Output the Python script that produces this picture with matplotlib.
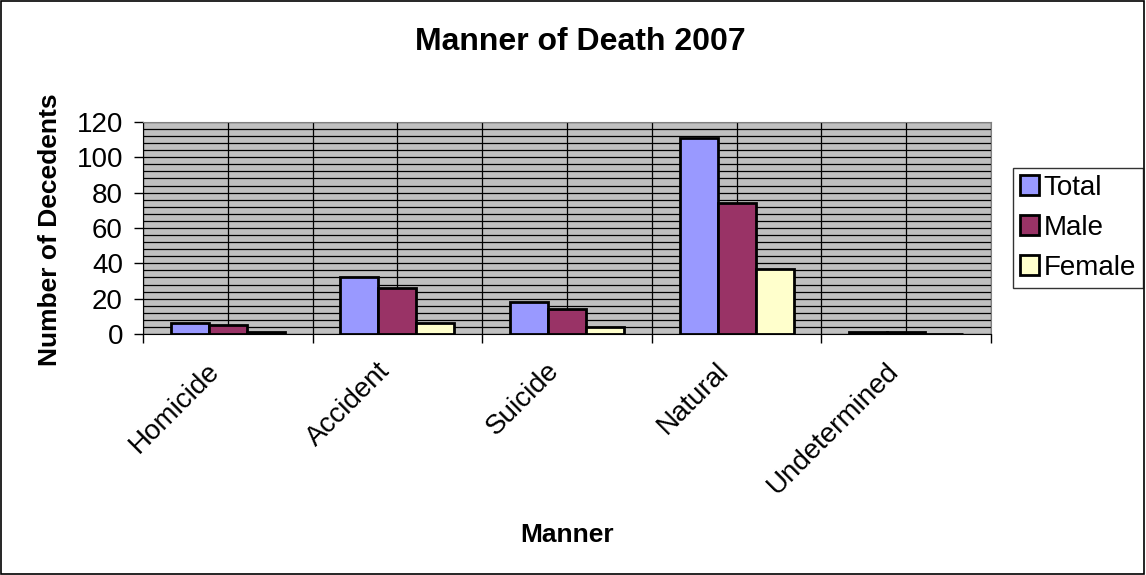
import matplotlib.pyplot as plt
from matplotlib.ticker import MultipleLocator
from matplotlib.transforms import ScaledTranslation
import numpy as np

plt.rcParams['font.family'] = ['Liberation Sans', 'DejaVu Sans']

categorias = ['Homicide', 'Accident', 'Suicide', 'Natural', 'Undetermined']
total = [6, 32, 18, 111, 1]
male = [5, 26, 14, 74, 1]
female = [1, 6, 4, 37, 0]

fig = plt.figure(figsize=(11.46, 5.75), dpi=100)
fig.patches.append(plt.Rectangle((0.0005, 0.001), 0.998, 0.997, transform=fig.transFigure,
                                 fill=False, edgecolor='black', linewidth=1.2))
ax = fig.add_axes([0.1248, 0.419, 0.74, 0.369])
ax.set_facecolor('#C0C0C0')

x = np.arange(len(categorias))
w = 0.224
ax.bar(x - w, total, w, color='#9999FF', edgecolor='black', linewidth=2, label='Total', zorder=3)
ax.bar(x, male, w, color='#993366', edgecolor='black', linewidth=2, label='Male', zorder=3)
ax.bar(x + w, female, w, color='#FFFFCC', edgecolor='black', linewidth=2, label='Female', zorder=3)

ax.set_xlim(-0.5, len(categorias) - 0.5)
ax.set_ylim(0, 120)

# grade
ax.yaxis.set_major_locator(MultipleLocator(20))
ax.yaxis.set_minor_locator(MultipleLocator(4))
ax.grid(which='both', axis='y', color='black', linewidth=0.9, zorder=1)
for xv in np.arange(-0.5, len(categorias), 0.5):
    ax.axvline(xv, color='black', linewidth=0.9, zorder=1)

ax.set_xticks(x)
ax.set_xticklabels(categorias, rotation=45, ha='right', rotation_mode='anchor', fontsize=20)
ax.set_xticks(np.arange(-0.5, len(categorias), 1.0), minor=True)
ax.tick_params(axis='x', which='major', length=0, pad=10)
ax.tick_params(axis='x', which='minor', length=6.5, color='black', width=1)
ax.tick_params(axis='y', which='major', length=6.5, labelsize=20, width=1, pad=8)
ax.tick_params(axis='y', which='minor', length=0)

desloc = ScaledTranslation(-0.21, -0.10, fig.dpi_scale_trans)
for rotulo in ax.get_xticklabels():
    rotulo.set_transform(rotulo.get_transform() + desloc)

for lado in ['top', 'right']:
    ax.spines[lado].set_color('#808080')
ax.spines['left'].set_color('black')
ax.spines['bottom'].set_color('black')

fig.text(0.506, 0.927, 'Manner of Death 2007', ha='center', va='center', fontsize=23, fontweight='bold')
fig.text(0.0436, 0.6, 'Number of Decedents', ha='center', va='center', rotation=90, fontsize=19, fontweight='bold')
fig.text(0.495, 0.07, 'Manner', ha='center', va='center', fontsize=19, fontweight='bold')

leg = fig.legend(loc='upper left', bbox_to_anchor=(0.884, 0.708), fontsize=20, frameon=True,
                 fancybox=False, edgecolor='black', handlelength=0.7, handleheight=0.7,
                 handletextpad=0.15, borderpad=0.25, labelspacing=0.5, borderaxespad=0)
leg.get_frame().set_linewidth(1)

plt.savefig('out.png')
